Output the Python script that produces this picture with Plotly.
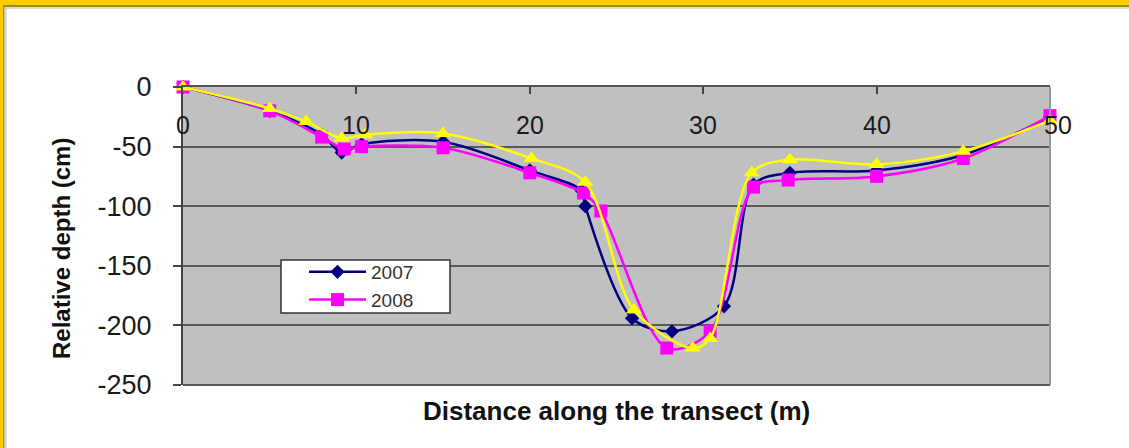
import plotly.graph_objects as go

# ---- data ----
x2007 = [0, 5, 8, 9.15, 10.3, 15, 20, 23, 23.2, 25.9, 28.2, 31.2, 32.9, 35, 40, 45, 50]
y2007 = [0, -20, -40, -55, -48, -46, -70, -87, -100, -194, -205, -184, -82, -72, -70, -57, -25]

x2008 = [0, 5, 8, 9.3, 10.3, 15, 20, 23.1, 24.1, 27.9, 30.4, 32.9, 34.9, 40, 45, 50]
y2008 = [0, -20, -42, -52, -50, -51, -72, -89, -104, -219, -205, -84, -78, -75, -60, -24]

x2009 = [0, 5, 7.1, 9.15, 10.5, 15, 20.1, 23.2, 26, 29.4, 30.4, 32.8, 35, 40, 45, 50]
y2009 = [0, -18, -29, -43, -40, -39, -60, -80, -187, -219, -211, -72, -61, -65, -54, -28]

x_ticks = [0, 10, 20, 30, 40, 50]
x_ticktext = ["0", "10", "20", "30", "40", "50"]
y_ticks = [0, -50, -100, -150, -200, -250]
y_ticktext = ["0", "-50", "-100", "-150", "-200", "-250"]

W, H = 1129, 448
L, R, T, B = 183, 79, 87, 63
pw, ph = W - L - R, H - T - B


def px_x(p):
    return (p - L) / pw


def px_y(p):
    return (H - B - p) / ph


fig = go.Figure()
fig.add_trace(go.Scatter(
    x=x2007, y=y2007, name="2007", mode="lines+markers",
    line=dict(color="#000080", width=2.5, shape="spline", smoothing=0.9),
    marker=dict(symbol="diamond", size=11, color="#000080"),
    cliponaxis=False))
fig.add_trace(go.Scatter(
    x=x2008, y=y2008, name="2008", mode="lines+markers",
    line=dict(color="#FF00FF", width=2.5, shape="spline", smoothing=0.9),
    marker=dict(symbol="square", size=13, color="#FF00FF"),
    cliponaxis=False))
fig.add_trace(go.Scatter(
    x=x2009, y=y2009, name="2009", mode="lines+markers", showlegend=False,
    line=dict(color="#FFFF00", width=2.5, shape="spline", smoothing=0.9),
    marker=dict(symbol="triangle-up", size=14, color="#FFFF00"),
    cliponaxis=False))

fig.update_layout(
    width=W, height=H,
    margin=dict(l=L, r=R, t=T, b=B, autoexpand=False),
    paper_bgcolor="white",
    plot_bgcolor="#C0C0C0",
    font=dict(family="Arial, Liberation Sans, sans-serif", color="#222222"),
    showlegend=True,
    legend=dict(
        x=px_x(304), y=px_y(253), xanchor="left", yanchor="top",
        bgcolor="rgba(0,0,0,0)", borderwidth=0,
        font=dict(size=19, color="#333333"),
        itemwidth=57, tracegroupgap=0,
    ),
    xaxis=dict(
        range=[0, 50], tickvals=x_ticks, side="top",
        ticks="inside", ticklen=7, tickwidth=1.5, tickcolor="#444444",
        showticklabels=False, automargin=False,
        showline=True, linecolor="#555555", linewidth=2,
        showgrid=False, zeroline=False, mirror=False,
    ),
    yaxis=dict(
        range=[-250, 0], tickvals=y_ticks, ticktext=y_ticktext,
        ticks="outside", ticklen=8, tickwidth=1.5, tickcolor="#444444",
        ticklabelstandoff=16, automargin=False,
        tickfont=dict(size=27, color="#1a1a1a"),
        showline=True, linecolor="#444444", linewidth=2,
        showgrid=True, gridcolor="#5a5a5a", gridwidth=1.5,
        zeroline=False,
    ),
)

# x tick labels sit just below the top axis line, inside the plot area
for xv, xt in zip(x_ticks, x_ticktext):
    fig.add_annotation(x=xv, y=px_y(125), xref="x", yref="paper", text=xt,
                       showarrow=False, xanchor="center", yanchor="middle",
                       xshift=8 if xv == x_ticks[-1] else 0,
                       font=dict(size=25, color="#1a1a1a"))

# right border of plot area and bottom gridline
fig.add_shape(type="line", xref="paper", yref="paper", x0=1, x1=1, y0=0, y1=1,
              line=dict(color="#999999", width=2))
fig.add_shape(type="line", xref="paper", yref="paper", x0=0, x1=1, y0=0, y1=0,
              line=dict(color="#5a5a5a", width=2))

# legend box
fig.add_shape(type="rect", xref="paper", yref="paper",
              x0=px_x(281), x1=px_x(450), y0=px_y(313), y1=px_y(260),
              fillcolor="white", line=dict(color="#333333", width=1.5),
              layer="above")

# frame decoration (gold border top and left)
fig.add_shape(type="rect", xref="paper", yref="paper",
              x0=px_x(0), x1=px_x(W), y0=px_y(0), y1=px_y(5),
              fillcolor="#FFCC00", line=dict(width=0), layer="above")
fig.add_shape(type="rect", xref="paper", yref="paper",
              x0=px_x(4), x1=px_x(W), y0=px_y(5), y1=px_y(7),
              fillcolor="#A68A1E", line=dict(width=0), layer="above")
fig.add_shape(type="rect", xref="paper", yref="paper",
              x0=px_x(6), x1=px_x(W), y0=px_y(7), y1=px_y(9),
              fillcolor="#D8D8E4", line=dict(width=0), layer="above")
fig.add_shape(type="rect", xref="paper", yref="paper",
              x0=px_x(0), x1=px_x(3), y0=px_y(H), y1=px_y(0),
              fillcolor="#FFCC00", line=dict(width=0), layer="above")
fig.add_shape(type="rect", xref="paper", yref="paper",
              x0=px_x(3), x1=px_x(4.5), y0=px_y(H), y1=px_y(5),
              fillcolor="#A68A1E", line=dict(width=0), layer="above")
fig.add_shape(type="rect", xref="paper", yref="paper",
              x0=px_x(4.5), x1=px_x(6.5), y0=px_y(H), y1=px_y(7),
              fillcolor="#CFCFCF", line=dict(width=0), layer="above")

# axis titles
fig.add_annotation(text="<b>Distance along the transect (m)</b>",
                   xref="paper", yref="paper", x=0.5, y=px_y(411),
                   xanchor="center", yanchor="middle", showarrow=False,
                   font=dict(size=26, color="#111111"))
fig.add_annotation(text="<b>Relative depth (cm)</b>",
                   xref="paper", yref="paper", x=px_x(62), y=px_y(248),
                   xanchor="center", yanchor="middle", showarrow=False,
                   textangle=-90, font=dict(size=24, color="#111111"))

fig.write_html("out.html",
               config={"displayModeBar": False},
               post_script="document.body.style.margin='0';"
                           "document.body.style.overflow='hidden';")
